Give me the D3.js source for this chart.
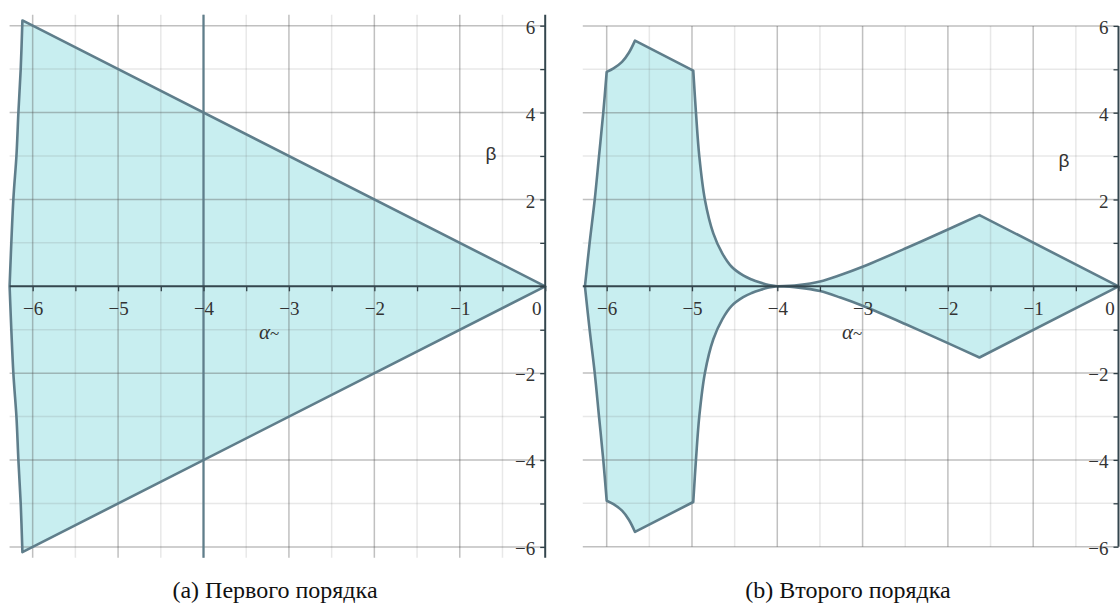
<!DOCTYPE html>
<html>
<head>
<meta charset="utf-8">
<script src="https://cdn.jsdelivr.net/npm/d3@7/dist/d3.min.js"></script>
<style>
  html, body { margin: 0; padding: 0; background: #ffffff; }
  svg { display: block; }
  .serif { font-family: "Liberation Serif", "Times New Roman", "DejaVu Serif", serif; }
  .sans { font-family: "Liberation Sans", Arial, sans-serif; }
</style>
</head>
<body>
<svg id="chart" width="1120" height="610"></svg>
<script>
// Tick values shared by both stability-region panels
const xMajorTicks = [-6, -5, -4, -3, -2, -1, 0];
const xMinorTicks = [-6.5, -5.5, -4.5, -3.5, -2.5, -1.5, -0.5];
const yMajorTicks = [-6, -4, -2, 2, 4, 6];
const yMinorTicks = [-5, -3, -1, 1, 3, 5];

// First-order region: upper boundary (alpha, beta); the lower half is its mirror image
const firstAlpha = [-6.27, -6.226, -6.19, -6.167, -6.14, -6.12, 0];
const firstBeta  = [0,      2,      3,     4,      5,     6.12, 0];
// Vertical line drawn in the first-order panel
const firstLineAlpha = -4;

// Second-order region: upper boundary (alpha, beta); the lower half is its mirror image
const secondAlpha = [-6.255, -6.2, -6.14, -6.09, -6.04, -6.0, -5.92, -5.82, -5.74, -5.668,
                     -4.985, -4.953, -4.914, -4.848, -4.75, -4.645, -4.535, -4.4, -4.3, -4.2, -4.1, -4.0,
                     -3.75, -3.5, -3.26, -3.0, -2.5, -2.0, -1.63, 0];
const secondBeta  = [0, 1, 2, 3, 4, 4.94, 5.02, 5.17, 5.38, 5.66,
                     4.97, 3.99, 2.99, 1.99, 1.22, 0.76, 0.45, 0.25, 0.155, 0.085, 0.03, 0,
                     0.03, 0.11, 0.26, 0.45, 0.87, 1.31, 1.64, 0];

const captions = ["(a) Первого порядка", "(b) Второго порядка"];

const svg = d3.select("#chart");

const FILL = "#c8eef0";
const OUTLINE = "#5f7e8b";

// Positions along the upper boundary where the outline has a sharp corner
const firstCornerIdx = [0, 5, 6];
const secondCornerIdx = [0, 5, 9, 10, 21, 28, 29];

// Upper boundary plus its mirror; each smooth piece between corners is
// drawn as its own curve so that corners stay sharp.
function regionPath(alphas, betas, corners, x, y) {
  const upper = alphas.map((a, i) => [a, betas[i]]);
  const pieces = [];
  for (let k = 0; k < corners.length - 1; k++) {
    pieces.push(upper.slice(corners[k], corners[k + 1] + 1));
  }
  const mirrored = pieces.slice().reverse().map(p => p.slice().reverse().map(([a, b]) => [a, -b]));
  const all = pieces.concat(mirrored);
  const line = d3.line().x(d => x(d[0])).y(d => y(d[1])).curve(d3.curveCatmullRom.alpha(0.5));
  return all.map((p, i) => {
    const s = line(p);
    return i === 0 ? s : "L" + s.slice(1);
  }).join("") + "Z";
}

function drawPanel(cfg) {
  const x = d3.scaleLinear().domain(cfg.xDomain).range(cfg.xRange);
  const y = d3.scaleLinear().domain(cfg.yDomain).range(cfg.yRange);
  const g = svg.append("g");
  const d = regionPath(cfg.alpha, cfg.beta, cfg.corners, x, y);

  // filled region
  g.append("path").attr("d", d).attr("fill", FILL).attr("stroke", "none");

  // grid over the fill
  const grid = g.append("g");
  const [x0, x1] = cfg.xDomain;
  const [y0, y1] = cfg.yDomain;
  const minorStroke = "rgba(110,110,110,0.16)";
  const majorStroke = "rgba(80,80,80,0.36)";
  grid.selectAll(".vminor").data(xMinorTicks.filter(v => v > x0 && v < x1)).join("line")
    .attr("x1", v => x(v)).attr("x2", v => x(v))
    .attr("y1", y(y0)).attr("y2", y(y1))
    .attr("stroke", minorStroke).attr("stroke-width", 1.5);
  grid.selectAll(".hminor").data(yMinorTicks).join("line")
    .attr("y1", v => y(v)).attr("y2", v => y(v))
    .attr("x1", x(x0)).attr("x2", x(x1))
    .attr("stroke", minorStroke).attr("stroke-width", 1.5);
  grid.selectAll(".vmajor").data(xMajorTicks.filter(v => v < 0)).join("line")
    .attr("x1", v => x(v)).attr("x2", v => x(v))
    .attr("y1", y(y0)).attr("y2", y(y1))
    .attr("stroke", majorStroke).attr("stroke-width", 1.5);
  grid.selectAll(".hmajor").data(yMajorTicks).join("line")
    .attr("y1", v => y(v)).attr("y2", v => y(v))
    .attr("x1", x(x0)).attr("x2", x(x1))
    .attr("stroke", majorStroke).attr("stroke-width", 1.5);

  // extra vertical line
  if (cfg.lineAlpha !== undefined) {
    g.append("line")
      .attr("x1", x(cfg.lineAlpha)).attr("x2", x(cfg.lineAlpha))
      .attr("y1", y(y0)).attr("y2", y(y1))
      .attr("stroke", OUTLINE).attr("stroke-width", 2.2);
  }

  // region outline
  g.append("path").attr("d", d)
    .attr("fill", "none")
    .attr("stroke", OUTLINE)
    .attr("stroke-width", 2.6)
    .attr("stroke-linejoin", "round");

  const fmt = v => v < 0 ? "\u2212" + Math.abs(v) : String(v);

  // horizontal axis (beta = 0)
  const xAxisMinor = d3.axisBottom(x).tickValues(xMinorTicks.filter(v => v > x0))
    .tickSize(5).tickFormat("");
  const xAxis = d3.axisBottom(x).tickValues(xMajorTicks).tickSize(5).tickFormat(fmt);
  const gxm = g.append("g").attr("transform", `translate(0,${y(0)})`).call(xAxisMinor);
  const gx = g.append("g").attr("transform", `translate(0,${y(0)})`).call(xAxis);
  [gx, gxm].forEach(s => {
    s.attr("font-family", null).attr("font-size", null);
    s.select(".domain").remove();
    s.selectAll(".tick line").attr("stroke", "#2f3f46").attr("stroke-width", 1.3);
  });
  gx.selectAll("text")
    .attr("class", "serif")
    .attr("dy", null).attr("y", 29)
    .attr("dx", v => v === 0 ? -9 : 0)
    .attr("font-size", 19).attr("fill", "#333");
  g.append("line")
    .attr("x1", x(x0)).attr("x2", x(x1))
    .attr("y1", y(0)).attr("y2", y(0))
    .attr("stroke", "#34464e").attr("stroke-width", 2);

  // vertical axis (alpha = 0) on the right edge
  const yAxisMinor = d3.axisLeft(y).tickValues(yMinorTicks.concat([0])).tickSize(5).tickFormat("");
  const yAxis = d3.axisLeft(y).tickValues(yMajorTicks).tickSize(5).tickPadding(5).tickFormat(fmt);
  const gym = g.append("g").attr("transform", `translate(${x(0)},0)`).call(yAxisMinor);
  const gy = g.append("g").attr("transform", `translate(${x(0)},0)`).call(yAxis);
  [gy, gym].forEach(s => {
    s.attr("font-family", null).attr("font-size", null);
    s.select(".domain").remove();
    s.selectAll(".tick line").attr("stroke", "#2f3f46").attr("stroke-width", 1.3);
  });
  gy.selectAll("text")
    .attr("class", "serif")
    .attr("dy", "0.4em")
    .attr("font-size", 19).attr("fill", "#333");
  g.append("line")
    .attr("x1", x(0)).attr("x2", x(0))
    .attr("y1", y(y0)).attr("y2", y(y1))
    .attr("stroke", "#34464e").attr("stroke-width", 2);

  // axis names
  const al = g.append("text")
    .attr("class", "serif")
    .attr("x", cfg.alphaLabel[0]).attr("y", cfg.alphaLabel[1])
    .attr("font-size", 21).attr("fill", "#333");
  al.append("tspan").attr("font-style", "italic").text("α");
  al.append("tspan").attr("font-size", 17).text("~");
  g.append("text")
    .attr("class", "sans")
    .attr("x", cfg.betaLabel[0]).attr("y", cfg.betaLabel[1])
    .attr("text-anchor", "middle")
    .attr("font-size", 19).attr("fill", "#333")
    .text("β");

  // caption
  svg.append("text")
    .attr("class", "serif")
    .attr("x", cfg.caption[0]).attr("y", cfg.caption[1])
    .attr("text-anchor", "middle")
    .attr("font-size", 24).attr("fill", "#111")
    .text(cfg.captionText);
}

drawPanel({
  xDomain: [-6.27, 0], xRange: [9.6, 545.2],
  yDomain: [-6.25, 6.25], yRange: [557.8, 14.8],
  alpha: firstAlpha, beta: firstBeta, corners: firstCornerIdx, lineAlpha: firstLineAlpha,
  alphaLabel: [259, 339], betaLabel: [491, 160],
  caption: [275, 598], captionText: captions[0]
});

drawPanel({
  xDomain: [-6.28, 0], xRange: [582.8, 1118.5],
  yDomain: [-6, 6], yRange: [546.7, 25.9],
  alpha: secondAlpha, beta: secondBeta, corners: secondCornerIdx,
  alphaLabel: [842, 339], betaLabel: [1064, 167],
  caption: [848, 598], captionText: captions[1]
});
</script>
</body>
</html>
